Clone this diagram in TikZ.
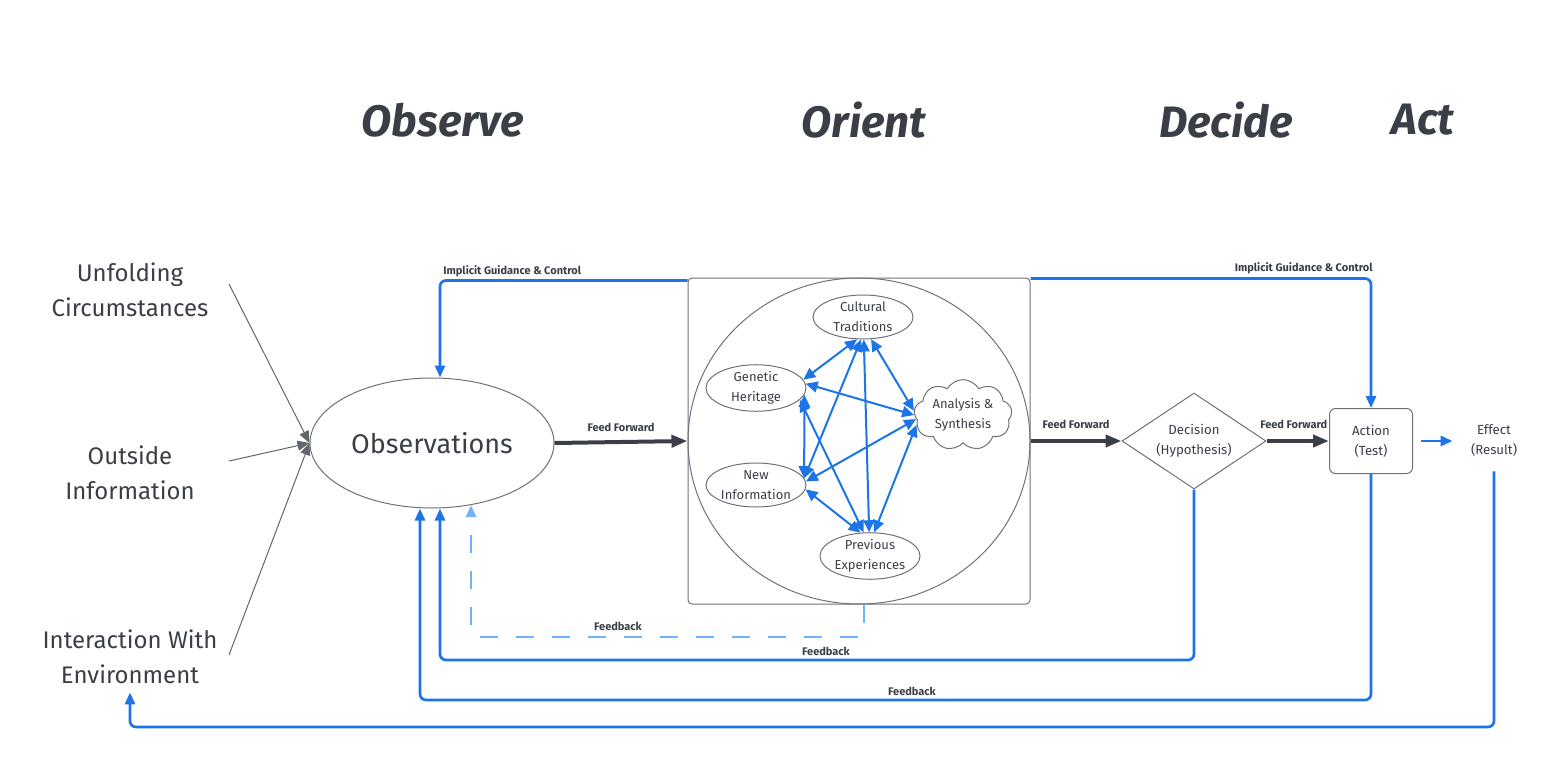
\documentclass[tikz,border=0pt]{standalone}
\usepackage{fontspec}
\setmainfont{Fira Sans}
\usetikzlibrary{arrows.meta,shapes.geometric,shapes.symbols,calc}
\definecolor{ink}{HTML}{3A3F47}
\definecolor{edgegray}{HTML}{6E7177}
\definecolor{fbblue}{HTML}{1C74E6}
\definecolor{lightblue}{HTML}{70B2FF}
\begin{document}
\begin{tikzpicture}[x=0.5pt,y=-0.5pt,
  headtxt/.style={text=ink, font=\fontsize{22}{26}\selectfont\bfseries\itshape, inner sep=0},
  sidetxt/.style={text=ink, align=center, font=\fontsize{12}{17.5}\selectfont, inner sep=0},
  smalllbl/.style={text=ink, font=\fontsize{5.5}{7}\selectfont\bfseries, inner sep=0},
  innernode/.style={ellipse, draw=edgegray, line width=0.5pt, minimum width=50pt, minimum height=22pt, inner sep=0, text=ink, align=center, font=\fontsize{6.5}{10}\selectfont},
  fbline/.style={draw=fbblue, line width=1.35pt, rounded corners=3pt, -{Triangle[length=6pt,width=5pt]}},
  fbdash/.style={draw=lightblue, line width=1.35pt, rounded corners=3pt, dash pattern=on 9pt off 9pt, -{Triangle[length=6pt,width=5pt]}},
  ffarrow/.style={draw=ink, line width=2pt, -{Triangle[length=8pt,width=6pt]}},
  inarrow/.style={draw=ink!80, line width=0.5pt, -{Triangle[length=6pt,width=5pt]}},
  twoway/.style={draw=fbblue, line width=1pt, {Triangle[length=6pt,width=5.5pt]}-{Triangle[length=6pt,width=5.5pt]}}
]
\useasboundingbox (0,0) rectangle (1568,760);

% headings
\node[headtxt] (hobs) at (443,120) {Observe};
\node[headtxt] (hori) at (864,120) {Orient};
\node[headtxt] (hdec) at (1226,120) {Decide};
\node[headtxt] (hact) at (1423,120) {Act};

% left texts
\node[sidetxt] (unf) at (130,290) {Unfolding\\Circumstances};
\node[sidetxt] (outs) at (130,473) {Outside\\Information};
\node[sidetxt] (env) at (130,657) {Interaction With\\Environment};
\coordinate (u1) at (229,284);
\coordinate (u2) at (229,461);
\coordinate (u3) at (229,655);

% observations
\node[ellipse, draw=edgegray, line width=0.5pt, minimum width=122pt, minimum height=65pt, inner sep=0, text=ink, font=\fontsize{13.5}{16}\selectfont] (obs) at (432,443) {Observations};

\draw[inarrow] (u1) -- (obs.west);
\draw[inarrow] (u2) -- (obs.west);
\draw[inarrow] (u3) -- (obs.west);

% orient box
\node[rectangle, draw=edgegray, line width=0.5pt, rounded corners=2pt, minimum width=171pt, minimum height=163pt] (orient) at (859,441) {};
\node[ellipse, draw=edgegray, line width=0.5pt, minimum width=171pt, minimum height=163pt] (circ) at (859,441) {};

\node[innernode] (ct) at (863,317) {Cultural\\Traditions};
\node[innernode] (gh) at (756,388) {Genetic\\Heritage};
\node[innernode] (ni) at (756,485) {New\\Information};
\node[innernode] (pe) at (870,556) {Previous\\Experiences};
\node[cloud, cloud puffs=9, cloud puff arc=120, aspect=1.5, draw=edgegray, line width=0.5pt, minimum width=49pt, minimum height=34pt, inner sep=0, text=ink, align=center, font=\fontsize{6.5}{10}\selectfont] (as) at (963,415) {Analysis \&\\Synthesis};

\draw[twoway] (ct.255) -- (gh.10);
\draw[twoway] (ct.290) -- (as.175);
\draw[twoway] (gh.5) -- (as.180);
\draw[twoway] (ct.265) -- (ni.8);
\draw[twoway] (ct.272) -- (pe.92);
\draw[twoway] (gh.-8) -- (ni.8);
\draw[twoway] (gh.-15) -- (pe.105);
\draw[twoway] (as.185) -- (ni.4);
\draw[twoway] (as.192) -- (pe.80);
\draw[twoway] (ni.-5) -- (pe.112);

% decision, action, effect
\node[diamond, draw=edgegray, line width=0.5pt, minimum width=72pt, minimum height=48pt, inner sep=0, aspect=1.5, text=ink, align=center, font=\fontsize{6.6}{10}\selectfont] (dec) at (1194,441) {Decision\\(Hypothesis)};
\node[rectangle, rounded corners=3pt, draw=edgegray, line width=0.5pt, minimum width=41.5pt, minimum height=32.5pt, inner sep=0, text=ink, align=center, font=\fontsize{6.6}{10}\selectfont] (act) at (1371,441) {Action\\(Test)};
\node[text=ink, align=center, font=\fontsize{6.6}{10}\selectfont, inner sep=0] (eff) at (1494,441) {Effect\\(Result)};

% feed forward
\draw[ffarrow] (obs.east) -- (orient.west) node[smalllbl, midway, above=4pt] (lff1) {Feed Forward};
\draw[ffarrow] (orient.east) -- (dec.west) node[smalllbl, midway, above=5pt] (lff2) {Feed Forward};
\draw[ffarrow] (dec.east) -- (act.west) node[smalllbl, midway, above=5pt, xshift=-2pt] (lff3) {Feed Forward};
\draw[fbline] ([xshift=4pt]act.east) -- ([xshift=-9pt]eff.west);

% implicit guidance
\draw[fbline] ([yshift=-1.5pt]orient.north west) -| ([xshift=4pt]obs.north);
\node[smalllbl, anchor=west] (ig1) at (443,271) {Implicit Guidance \& Control};
\draw[fbline] ([yshift=-0.5pt]orient.north east) -| (act.north);
\node[smalllbl, anchor=east] (ig2) at (1373,268) {Implicit Guidance \& Control};

% feedback loops
\coordinate (c1) at (864,637);
\coordinate (c2) at (1194,660);
\coordinate (c3) at (1371,700);
\coordinate (c4) at (1494,727);
\draw[fbdash] ([xshift=2.5pt]orient.south) -- (c1) -| ([xshift=19.5pt,yshift=1.7pt]obs.south);
\node[smalllbl] (fb1) at (618,626) {Feedback};
\draw[fbline] (dec.south) -- (c2) -| ([xshift=4pt]obs.south);
\node[smalllbl] (fb2) at (826,651) {Feedback};
\draw[fbline] (act.south) -- (c3) -| ([xshift=-6pt]obs.south);
\node[smalllbl] (fb3) at (912,691) {Feedback};
\draw[fbline] ([yshift=-7pt]eff.south) -- (c4) -| ([yshift=-4pt]env.south);

\end{tikzpicture}
\end{document}
